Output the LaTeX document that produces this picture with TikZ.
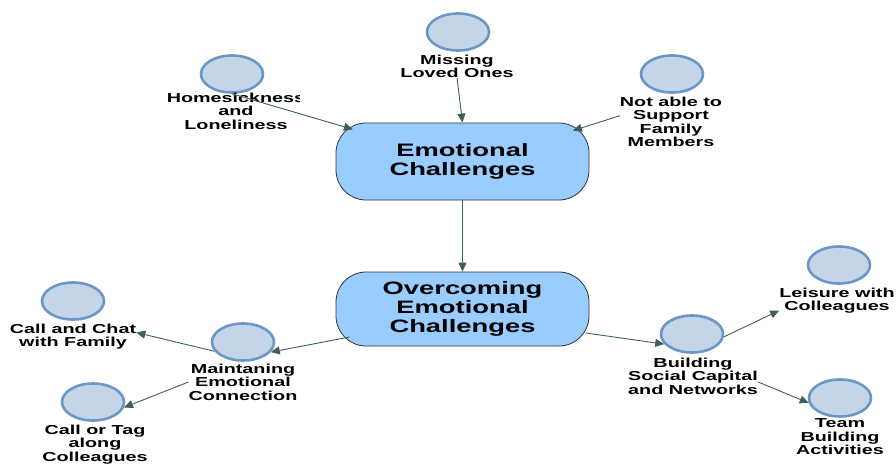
\documentclass[tikz,border=0pt]{standalone}
\usepackage{fontspec}
\setmainfont{Liberation Sans}[FakeStretch=1.52]
\usetikzlibrary{arrows.meta,shapes.geometric}
\definecolor{boxfill}{HTML}{99CCFF}
\definecolor{boxline}{HTML}{333333}
\definecolor{circfill}{HTML}{C5D5E8}
\definecolor{circline}{HTML}{6C96C8}
\definecolor{arrcol}{HTML}{3F5F5A}
\tikzset{
  bigbox/.style={draw=boxline, line width=0.8pt, fill=boxfill, rounded corners=30pt,
    minimum width=253pt, inner sep=0pt, align=center,
    font=\fontsize{18}{19}\selectfont\bfseries},
  circ/.style={ellipse, draw=circline, line width=2.6pt, fill=circfill,
    minimum width=62pt, minimum height=37pt, inner sep=0pt},
  lbl/.style={anchor=north, inner sep=0pt, align=center,
    font=\fontsize{13}{13.5}\selectfont\bfseries},
  arr/.style={draw=arrcol, line width=0.9pt, -{Triangle[length=9pt,width=8pt]}}
}
\begin{document}
\begin{tikzpicture}[x=1pt,y=-1pt]
\useasboundingbox (0,0) rectangle (896,464);
% main boxes
\node[bigbox, minimum height=77pt] (emo) at (462.5,161.5) {Emotional\\Challenges};
\node[bigbox, minimum height=74pt] (over) at (462.5,309) {Overcoming\\Emotional\\Challenges};
% circles
\node[circ] (missc) at (458,32) {};
\node[circ] (homec) at (232,74) {};
\node[circ] (notc) at (672,74) {};
\node[circ] (chatc) at (73,301) {};
\node[circ] (maintc) at (243,342) {};
\node[circ] (tagc) at (93,402) {};
\node[circ] (buildc) at (692,334) {};
\node[circ] (leisc) at (839,265) {};
\node[circ] (teamc) at (840,398) {};
% labels
\node[lbl] (missl) at (457,54.5) {Missing\\Loved Ones};
\begin{scope}
\clip (150,85) rectangle (299,140);
\node[lbl] (homel) at (236,92.5) {Homesickness\\and\\Loneliness};
\end{scope}
\node[lbl] (notl) at (671,96.5) {Not able to\\Support\\Family\\Members};
\node[lbl] (chatl) at (73,323.5) {Call and Chat\\with Family};
\node[lbl] (maintl) at (243,363.5) {Maintaning\\Emotional\\Connection};
\node[lbl] (tagl) at (95,424.5) {Call or Tag\\along\\Colleagues};
\node[lbl] (buildl) at (693,357.5) {Building\\Social Capital\\and Networks};
\node[lbl] (leisl) at (837,287.5) {Leisure with\\Colleagues};
\node[lbl] (teaml) at (840,418.5) {Team\\Building\\Activities};
% connectors
\draw[arr] (missl.south) -- (emo.north);
\draw[arr, shorten >=-18pt] (homec.south) -- (emo);
\draw[arr] ([yshift=6pt]notl.west) -- ([xshift=-16.5pt,yshift=-8pt]emo.north east);
\draw[arr] (emo) -- (over);
\draw[arr] ([xshift=14pt,yshift=-28pt]over.west) -- (maintc.340);
\draw[arr] (maintc.198) -- ([yshift=4pt]chatl.east);
\draw[arr] (maintl.west) -- (tagc.350);
\draw[arr] ([xshift=-3.5pt,yshift=-24pt]over.east) -- (buildc.200);
\draw[arr] (buildc.355) -- ([yshift=-10pt]leisl.west);
\draw[arr] ([yshift=-6pt]buildl.east) -- (teamc.189);
\end{tikzpicture}
\end{document}
